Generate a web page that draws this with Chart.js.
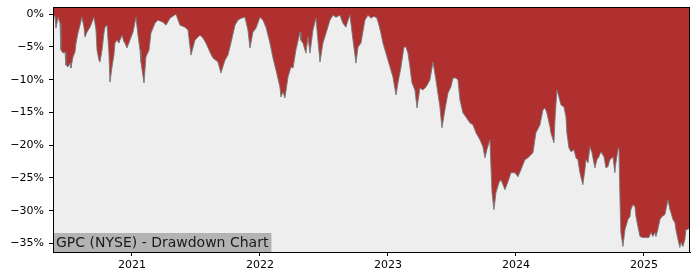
<!DOCTYPE html>
<html>
<head>
<meta charset="utf-8">
<script src="https://cdn.jsdelivr.net/npm/chart.js@4.4.1/dist/chart.umd.min.js"></script>
<style>
  body { margin: 0; background: #fff; }
</style>
</head>
<body>
<canvas id="ddCanvas" width="700" height="280"></canvas>
<script>
const title = "GPC (NYSE) - Drawdown Chart";

// dates as decimal years, drawdown in %
const years = [
  2020.383, 2020.398, 2020.406, 2020.422, 2020.438, 2020.445, 2020.461, 2020.477, 2020.484, 2020.5,
  2020.516, 2020.523, 2020.539, 2020.555, 2020.563, 2020.578, 2020.594, 2020.609, 2020.625, 2020.633,
  2020.648, 2020.672, 2020.688, 2020.703, 2020.719, 2020.727, 2020.742, 2020.75, 2020.766, 2020.781,
  2020.789, 2020.805, 2020.820, 2020.828, 2020.844, 2020.859, 2020.867, 2020.883, 2020.898, 2020.906,
  2020.922, 2020.938, 2020.945, 2020.961, 2020.984, 2021.008, 2021.031, 2021.047, 2021.063, 2021.070,
  2021.094, 2021.109, 2021.133, 2021.148, 2021.180, 2021.203, 2021.242, 2021.266, 2021.297, 2021.320,
  2021.344, 2021.375, 2021.414, 2021.438, 2021.461, 2021.492, 2021.531, 2021.555, 2021.578, 2021.609,
  2021.633, 2021.672, 2021.695, 2021.727, 2021.75, 2021.773, 2021.805, 2021.828, 2021.852, 2021.883,
  2021.906, 2021.922, 2021.945, 2021.969, 2022.0, 2022.023, 2022.047, 2022.078, 2022.102, 2022.125,
  2022.156, 2022.164, 2022.180, 2022.195, 2022.219, 2022.242, 2022.258, 2022.281, 2022.313, 2022.320,
  2022.336, 2022.359, 2022.375, 2022.391, 2022.414, 2022.438, 2022.453, 2022.469, 2022.492, 2022.516,
  2022.547, 2022.570, 2022.594, 2022.625, 2022.648, 2022.672, 2022.688, 2022.703, 2022.727, 2022.75,
  2022.766, 2022.789, 2022.820, 2022.844, 2022.867, 2022.891, 2022.914, 2022.930, 2022.945, 2022.961,
  2022.984, 2023.016, 2023.039, 2023.063, 2023.078, 2023.102, 2023.125, 2023.141, 2023.156, 2023.172,
  2023.188, 2023.211, 2023.227, 2023.25, 2023.273, 2023.297, 2023.328, 2023.352, 2023.375, 2023.406,
  2023.422, 2023.445, 2023.469, 2023.492, 2023.508, 2023.531, 2023.547, 2023.563, 2023.586, 2023.609,
  2023.641, 2023.664, 2023.688, 2023.719, 2023.742, 2023.758, 2023.773, 2023.797, 2023.805, 2023.813,
  2023.828, 2023.844, 2023.867, 2023.883, 2023.914, 2023.938, 2023.961, 2023.992, 2024.016, 2024.039,
  2024.070, 2024.094, 2024.117, 2024.133, 2024.156, 2024.188, 2024.211, 2024.227, 2024.242, 2024.266,
  2024.273, 2024.297, 2024.305, 2024.320, 2024.336, 2024.352, 2024.375, 2024.391, 2024.398, 2024.414,
  2024.430, 2024.453, 2024.469, 2024.484, 2024.5, 2024.523, 2024.539, 2024.547, 2024.563, 2024.578,
  2024.594, 2024.617, 2024.633, 2024.648, 2024.664, 2024.688, 2024.703, 2024.719, 2024.734, 2024.758,
  2024.773, 2024.781, 2024.797, 2024.805, 2024.813, 2024.820, 2024.836, 2024.852, 2024.859, 2024.875,
  2024.891, 2024.898, 2024.914, 2024.930, 2024.938, 2024.953, 2024.969, 2024.992, 2025.016, 2025.039,
  2025.055, 2025.070, 2025.086, 2025.094, 2025.109, 2025.125, 2025.141, 2025.164, 2025.172, 2025.188,
  2025.203, 2025.211, 2025.227, 2025.242, 2025.25, 2025.266, 2025.281, 2025.289, 2025.305, 2025.320,
  2025.328, 2025.344, 2025.359
];

const drawdown = [
  -0.15, -0.30, -2.13, -0.46, -1.37, -5.48, -5.94, -5.78, -7.76, -8.07,
  -7.46, -8.22, -6.54, -5.78, -4.41, -2.89, -1.67, -0.46, -1.98, -3.50,
  -2.74, -1.98, -1.22, -0.46, -2.43, -5.48, -7.00, -7.30, -5.48, -2.89,
  -1.98, -1.67, -5.94, -10.35, -8.07, -6.24, -4.41, -3.96, -4.41, -3.96,
  -3.20, -4.26, -4.41, -5.17, -3.96, -2.74, -0.46, -3.20, -5.48, -7.30,
  -10.50, -6.54, -5.48, -2.89, -1.37, -0.91, -1.22, -1.67, -0.61, -0.30,
  0, -1.67, -1.98, -2.43, -6.24, -3.96, -3.20, -3.65, -4.41, -5.78,
  -6.70, -7.30, -8.98, -7.00, -6.24, -4.41, -1.67, -0.91, -0.61, -0.46,
  -2.43, -5.17, -2.74, -2.13, -0.46, -0.91, -1.98, -4.41, -6.70, -8.52,
  -11.11, -12.63, -11.87, -12.78, -9.59, -8.07, -8.22, -5.48, -2.74, -3.96,
  -4.41, -5.94, -3.50, -5.94, -2.43, -0.61, -3.96, -7.30, -4.41, -2.89,
  -0.91, -0.15, -0.46, -0.15, -1.37, -1.98, -0.91, -0.15, -3.96, -7.46,
  -5.02, -4.41, -0.91, -0.15, -0.61, -0.30, -0.61, -1.67, -2.89, -4.41,
  -5.94, -8.07, -9.59, -12.33, -10.50, -8.07, -5.02, -5.02, -5.94, -8.07,
  -10.50, -11.57, -14.31, -11.26, -11.57, -11.11, -10.04, -7.30, -10.04, -14.15,
  -17.35, -14.61, -12.02, -11.11, -9.74, -9.74, -10.04, -13.09, -15.07, -15.68,
  -16.59, -16.89, -18.11, -19.18, -20.24, -21.91, -20.70, -19.18, -23.28, -27.24,
  -29.83, -27.24, -25.72, -25.26, -26.78, -25.57, -24.20, -24.20, -24.81, -23.74,
  -22.22, -21.91, -21.46, -21.15, -18.11, -16.89, -14.61, -14.31, -15.07, -17.20,
  -18.11, -19.63, -16.13, -11.57, -12.63, -13.85, -14.15, -15.68, -18.11, -20.39,
  -21.00, -20.70, -21.91, -22.22, -24.20, -26.02, -23.74, -22.22, -22.68, -20.24,
  -21.15, -23.44, -22.22, -21.76, -21.00, -21.76, -23.44, -23.28, -22.22, -21.76,
  -24.20, -22.68, -20.70, -20.39, -28.31, -33.33, -35.46, -32.88, -32.42, -31.35,
  -30.89, -29.83, -29.07, -29.37, -30.89, -32.42, -33.94, -34.09, -34.09, -34.09,
  -33.33, -33.94, -33.33, -33.94, -32.88, -31.35, -30.89, -30.59, -29.83, -28.31,
  -29.83, -30.28, -31.35, -31.81, -32.88, -34.40, -35.61, -34.85, -35.46, -34.40,
  -32.88, -32.88, -32.42
];

const xTicks = [2021, 2022, 2023, 2024, 2025];
const yTicks = [0, -5, -10, -15, -20, -25, -30, -35];

const tickFont = { family: "DejaVu Sans", size: 11 };

const plotDecor = {
  id: "plotDecor",
  beforeDraw: (chart) => {
    const { ctx, chartArea: a } = chart;
    ctx.save();
    ctx.fillStyle = "#eeeeee";
    ctx.fillRect(a.left, a.top, a.right - a.left, a.bottom - a.top);
    ctx.restore();
  },
  afterDraw: (chart) => {
    const { ctx, chartArea: a } = chart;
    ctx.save();
    // label box in the lower left corner
    ctx.font = "14px 'DejaVu Sans'";
    const w = ctx.measureText(title).width;
    ctx.fillStyle = "#b3b3b3";
    ctx.fillRect(a.left, a.bottom - 19, w + 6, 19);
    ctx.fillStyle = "#1a1a1a";
    ctx.textBaseline = "alphabetic";
    ctx.fillText(title, a.left + 3, a.bottom - 5);
    // frame
    ctx.strokeStyle = "#000";
    ctx.lineWidth = 1;
    ctx.strokeRect(a.left + 0.5, a.top + 0.5, a.right - a.left - 1, a.bottom - a.top);
    ctx.restore();
  },
};

const ddChart = new Chart(document.getElementById("ddCanvas"), {
  type: "line",
  data: {
    datasets: [
      {
        data: years.map((x, i) => ({ x: x, y: drawdown[i] })),
        // red area runs from the curve up to the top of the plot
        fill: "end",
        backgroundColor: "#b03030",
        borderColor: "rgba(120,120,120,0.9)",
        borderWidth: 1,
        pointRadius: 0,
        tension: 0,
      },
    ],
  },
  options: {
    responsive: false,
    animation: false,
    layout: { padding: { left: 0, right: 10, top: 7, bottom: 0 } },
    plugins: {
      legend: { display: false },
      tooltip: { enabled: false },
    },
    scales: {
      x: {
        type: "linear",
        min: 2020.383,
        max: 2025.36,
        afterBuildTicks: (s) => {
          s.ticks = xTicks.map((v) => ({ value: v }));
        },
        afterFit: (s) => {
          s.height = 28;
          s.paddingLeft = 0;
          s.paddingRight = 0;
        },
        ticks: {
          color: "#000",
          font: tickFont,
          padding: 3,
          maxRotation: 0,
          callback: (v) => String(v),
        },
        grid: { drawOnChartArea: false, tickLength: 4, color: "#000" },
        border: { color: "#000" },
      },
      y: {
        min: -36.3,
        max: 1.1,
        afterBuildTicks: (s) => {
          s.ticks = yTicks.map((v) => ({ value: v }));
        },
        afterFit: (s) => {
          s.width = 53;
          s.paddingTop = 0;
          s.paddingBottom = 0;
        },
        ticks: {
          color: "#000",
          font: tickFont,
          padding: 5,
          callback: (v) => (v < 0 ? "\u2212" + Math.abs(v) : v) + "%",
        },
        grid: { drawOnChartArea: false, tickLength: 4, color: "#000" },
        border: { color: "#000" },
      },
    },
  },
  plugins: [plotDecor],
});
</script>
</body>
</html>
